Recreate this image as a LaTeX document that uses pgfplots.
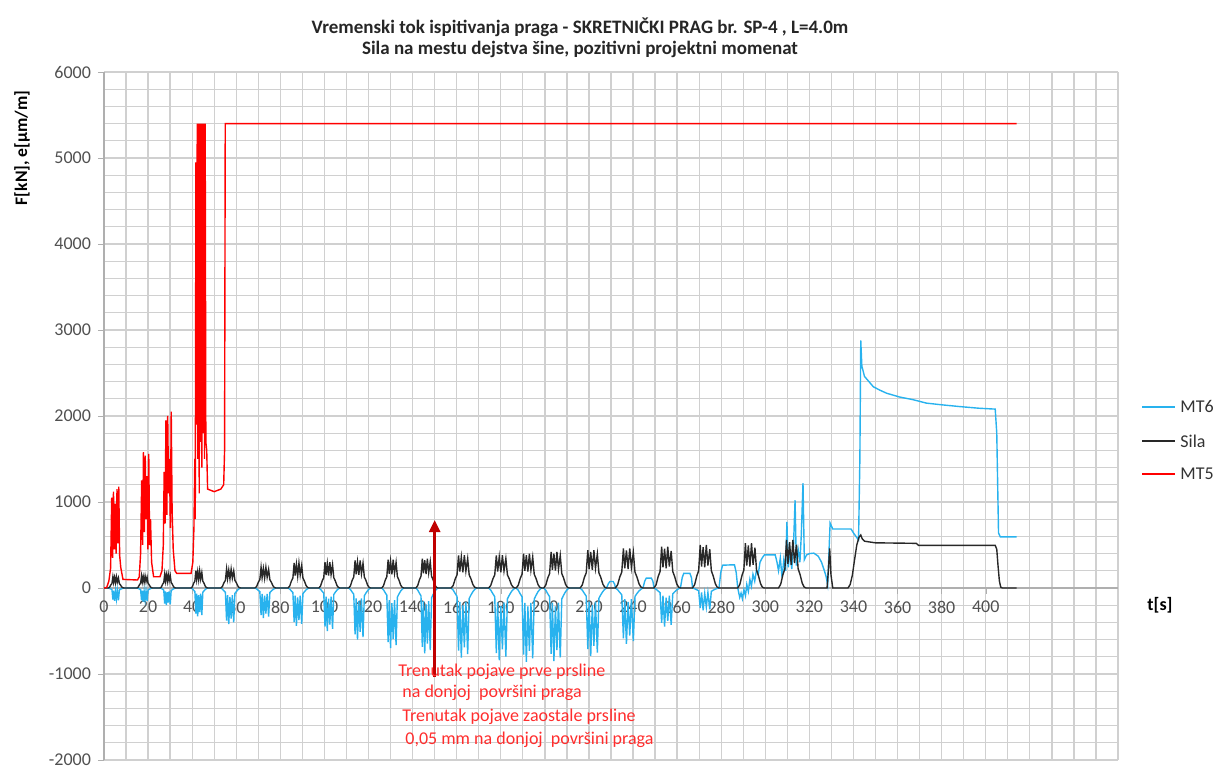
\documentclass[border=0pt]{standalone}
\usepackage{fontspec}
\setmainfont{Carlito}
\usepackage{pgfplots}
\pgfplotsset{compat=1.18}
\usetikzlibrary{arrows.meta}
\pgfplotsset{layers/labelsontop/.define layer set={axis background,axis grid,main,axis ticks,axis lines,axis tick labels,axis descriptions,axis foreground}{}}
\definecolor{mtsix}{RGB}{40,178,238}
\definecolor{sila}{RGB}{40,40,40}
\definecolor{mtfive}{RGB}{255,0,0}
\definecolor{arrowred}{RGB}{192,0,0}
\definecolor{notered}{RGB}{255,45,45}
\definecolor{gridgray}{RGB}{208,208,208}
\definecolor{axisgray}{RGB}{175,175,175}
\definecolor{ticktext}{RGB}{80,80,80}
\begin{document}
\begin{tikzpicture}[font=\fontsize{9}{10.8}\selectfont]
\begin{axis}[
  set layers=labelsontop,
  scale only axis, width=507pt, height=344pt,
  xmin=0, xmax=460, ymin=-2000, ymax=6000,
  axis x line=middle, axis y line=left,
  axis line style={-, draw=axisgray, line width=0.6pt},
  xtick={0,20,...,400}, minor xtick={10,20,...,460},
  ytick={-2000,-1000,...,6000}, minor ytick={-2000,-1800,...,6000},
  grid=both, major grid style={draw=gridgray, line width=0.65pt}, minor grid style={draw=gridgray, line width=0.65pt},
  tick align=outside, major tick length=3pt, minor tick length=0pt,
  tick style={draw=axisgray},
  ticklabel style={font=\fontsize{9}{10.8}\selectfont, text=ticktext},
  /pgf/number format/assume math mode=true,
  /pgf/number format/1000 sep={},
  scaled ticks=false,
  hide obscured x ticks=false, hide obscured y ticks=false,
]
% MT6
\addplot[mtsix, line width=0.7pt] coordinates {
(0,0)
(2,0) (2.56,-5) (3.12,-12) (3.61,-18) (4.03,-135) (4.38,-30) (4.8,-150) (5.22,-38) (5.64,-128) (6.06,-30) (6.55,-143) (6.97,-23) (7.46,-15) (8.02,-8) (8.51,-3) (9,0)
(15,0) (15.56,-5) (16.12,-13) (16.61,-19) (17.03,-144) (17.38,-32) (17.8,-160) (18.22,-40) (18.64,-136) (19.06,-32) (19.55,-152) (19.97,-24) (20.46,-16) (21.02,-8) (21.51,-3) (22,0)
(25.5,0) (26.06,-6) (26.62,-16) (27.11,-24) (27.53,-180) (27.88,-40) (28.3,-200) (28.72,-50) (29.14,-170) (29.56,-40) (30.05,-190) (30.47,-30) (30.96,-20) (31.52,-10) (32.01,-4) (32.5,0)
(39.5,0) (40.1,-10) (40.7,-26) (41.23,-40) (41.68,-297) (42.05,-66) (42.5,-330) (42.95,-83) (43.4,-281) (43.85,-66) (44.38,-314) (44.83,-50) (45.35,-33) (45.95,-17) (46.48,-7) (47,0)
(53,0) (53.72,-13) (54.44,-34) (55.07,-50) (55.61,-378) (56.06,-84) (56.6,-420) (57.14,-105) (57.68,-357) (58.22,-84) (58.85,-399) (59.39,-63) (60.02,-42) (60.74,-21) (61.37,-8) (62,0)
(68.5,0) (69.26,-11) (70.02,-28) (70.69,-42) (71.26,-315) (71.73,-70) (72.3,-350) (72.87,-88) (73.44,-298) (74.01,-70) (74.68,-333) (75.25,-53) (75.91,-35) (76.67,-18) (77.34,-7) (78,0)
(83.5,0) (84.26,-13) (85.02,-35) (85.69,-53) (86.26,-396) (86.73,-88) (87.3,-440) (87.87,-110) (88.44,-374) (89.01,-88) (89.68,-418) (90.25,-66) (90.91,-44) (91.67,-22) (92.34,-9) (93,0)
(97.5,0) (98.26,-15) (99.02,-40) (99.69,-60) (100.26,-450) (100.73,-100) (101.3,-500) (101.87,-125) (102.44,-425) (103.01,-100) (103.68,-475) (104.25,-75) (104.91,-50) (105.67,-25) (106.34,-10) (107,0)
(111,0) (111.8,-18) (112.6,-48) (113.3,-72) (113.9,-540) (114.4,-120) (115,-600) (115.6,-150) (116.2,-510) (116.8,-120) (117.5,-570) (118.1,-90) (118.8,-60) (119.6,-30) (120.3,-12) (121,0)
(126,0) (126.8,-21) (127.6,-56) (128.3,-84) (128.9,-630) (129.4,-140) (130,-700) (130.6,-175) (131.2,-595) (131.8,-140) (132.5,-665) (133.1,-105) (133.8,-70) (134.6,-35) (135.3,-14) (136,0)
(141.5,0) (142.3,-23) (143.1,-61) (143.8,-91) (144.4,-684) (144.9,-152) (145.5,-760) (146.1,-190) (146.7,-646) (147.3,-152) (148,-722) (148.6,-114) (149.3,-76) (150.1,-38) (150.8,-15) (151.5,0)
(157.5,0) (158.42,-24) (159.34,-65) (160.15,-97) (160.84,-729) (161.41,-162) (162.1,-810) (162.79,-203) (163.48,-689) (164.17,-162) (164.98,-770) (165.67,-122) (166.47,-81) (167.39,-41) (168.2,-16) (169,0)
(174.5,0) (175.46,-25) (176.42,-67) (177.26,-101) (177.98,-756) (178.58,-168) (179.3,-840) (180.02,-210) (180.74,-714) (181.46,-168) (182.3,-798) (183.02,-126) (183.86,-84) (184.82,-42) (185.66,-17) (186.5,0)
(187,0) (187.92,-26) (188.84,-69) (189.65,-103) (190.34,-774) (190.91,-172) (191.6,-860) (192.29,-215) (192.98,-731) (193.67,-172) (194.48,-817) (195.17,-129) (195.97,-86) (196.89,-43) (197.7,-17) (198.5,0)
(199.5,0) (200.42,-26) (201.34,-68) (202.15,-102) (202.84,-765) (203.41,-170) (204.1,-850) (204.79,-213) (205.48,-723) (206.17,-170) (206.98,-808) (207.67,-128) (208.47,-85) (209.39,-43) (210.2,-17) (211,0)
(216,0) (216.96,-24) (217.92,-63) (218.76,-95) (219.48,-711) (220.08,-158) (220.8,-790) (221.52,-198) (222.24,-672) (222.96,-158) (223.8,-751) (224.52,-119) (225.36,-79) (226.32,-40) (227.16,-16) (228,0)
(228.8,50) (229.5,75) (231,75) (231.7,40)
(232,0) (233,-20) (234,-52) (234.88,-78) (235.63,-585) (236.25,-130) (237,-650) (237.75,-163) (238.5,-553) (239.25,-130) (240.13,-618) (240.88,-98) (241.75,-65) (242.75,-33) (243.63,-13) (244.5,0)
(245.3,80) (246,115) (248.3,115) (249,80)
(249.5,0) (250.46,-14) (251.42,-36) (252.26,-54) (252.98,-405) (253.58,-90) (254.3,-450) (255.02,-113) (255.74,-383) (256.46,-90) (257.3,-428) (258.02,-68) (258.86,-45) (259.82,-23) (260.66,-9) (261.5,0)
(262.3,120) (263,170) (265.8,170) (266.5,120)
(267,0) (267.96,-8) (268.92,-21) (269.76,-31) (270.48,-234) (271.08,-52) (271.8,-260) (272.52,-65) (273.24,-221) (273.96,-52) (274.8,-247) (275.52,-39) (276.36,-26) (277.32,-13) (278.16,-5) (279,0)
(279.8,180) (280.6,265) (286,270) (286.8,180)
(287.5,0) (288.4,-110) (289,-60) (289.6,-125) (290.3,-20) (291,-90) (291.6,40) (292.3,-40) (293,100) (293.7,20) (294.4,160) (295.2,80) (296,210) (296.8,160) (297.6,300) (298.6,350) (299.6,385) (304.5,385) (305.3,300) (306,200)
(306.8,350) (307.6,120) (308.4,330) (309.2,200) (309.8,770) (310.4,240) (311.2,420) (312,220) (312.8,500) (313.5,1020) (314.1,260) (314.9,450) (315.7,300) (316.3,600) (317.1,1220) (317.7,330) (318.7,384) (320,400) (322,405) (324,370) (325.5,300) (326.8,200) (327.6,131) (328.3,35) (329.4,755) (330.6,686) (338.9,686) (340,640) (341.2,597) (342.3,558) (342.9,1500) (343.3,2880) (343.8,2580) (345,2460) (347,2400) (349,2340) (352,2300) (355,2265) (361,2220) (367,2190) (373,2150) (380,2130) (388,2110) (397,2090) (404.3,2080) (405,1800) (405.8,640) (406.6,595) (414,595)
};
% Sila
\addplot[sila, line width=0.7pt] coordinates {
(0,0)
(2,0) (2.56,10) (3.12,36) (3.61,52) (4.03,130) (4.38,65) (4.8,124) (5.22,62) (5.64,130) (6.06,68) (6.55,117) (6.97,52) (7.46,36) (8.02,13) (8.51,3) (9,0)
(15,0) (15.56,11) (16.12,39) (16.61,56) (17.03,140) (17.38,70) (17.8,133) (18.22,67) (18.64,140) (19.06,73) (19.55,126) (19.97,56) (20.46,39) (21.02,14) (21.51,3) (22,0)
(25.5,0) (26.06,13) (26.62,45) (27.11,64) (27.53,160) (27.88,80) (28.3,152) (28.72,77) (29.14,160) (29.56,83) (30.05,144) (30.47,64) (30.96,45) (31.52,16) (32.01,3) (32.5,0)
(39.5,0) (40.1,16) (40.7,56) (41.23,80) (41.68,200) (42.05,100) (42.5,190) (42.95,96) (43.4,200) (43.85,104) (44.38,180) (44.83,80) (45.35,56) (45.95,20) (46.48,4) (47,0)
(53,0) (53.72,18) (54.44,62) (55.07,88) (55.61,220) (56.06,110) (56.6,209) (57.14,106) (57.68,220) (58.22,114) (58.85,198) (59.39,88) (60.02,62) (60.74,22) (61.37,4) (62,0)
(68.5,0) (69.26,19) (70.02,67) (70.69,96) (71.26,240) (71.73,120) (72.3,228) (72.87,115) (73.44,240) (74.01,125) (74.68,216) (75.25,96) (75.91,67) (76.67,24) (77.34,5) (78,0)
(83.5,0) (84.26,23) (85.02,81) (85.69,116) (86.26,290) (86.73,145) (87.3,276) (87.87,139) (88.44,290) (89.01,151) (89.68,261) (90.25,116) (90.91,81) (91.67,29) (92.34,6) (93,0)
(97.5,0) (98.26,24) (99.02,84) (99.69,120) (100.26,300) (100.73,150) (101.3,285) (101.87,144) (102.44,300) (103.01,156) (103.68,270) (104.25,120) (104.91,84) (105.67,30) (106.34,6) (107,0)
(111,0) (111.8,26) (112.6,90) (113.3,128) (113.9,320) (114.4,160) (115,304) (115.6,154) (116.2,320) (116.8,166) (117.5,288) (118.1,128) (118.8,90) (119.6,32) (120.3,6) (121,0)
(126,0) (126.8,26) (127.6,92) (128.3,132) (128.9,330) (129.4,165) (130,314) (130.6,158) (131.2,330) (131.8,172) (132.5,297) (133.1,132) (133.8,92) (134.6,33) (135.3,7) (136,0)
(141.5,0) (142.3,27) (143.1,95) (143.8,136) (144.4,340) (144.9,170) (145.5,323) (146.1,163) (146.7,340) (147.3,177) (148,306) (148.6,136) (149.3,95) (150.1,34) (150.8,7) (151.5,0)
(157.5,0) (158.42,30) (159.34,106) (160.15,152) (160.84,380) (161.41,190) (162.1,361) (162.79,182) (163.48,380) (164.17,198) (164.98,342) (165.67,152) (166.47,106) (167.39,38) (168.2,8) (169,0)
(174.5,0) (175.46,30) (176.42,106) (177.26,152) (177.98,380) (178.58,190) (179.3,361) (180.02,182) (180.74,380) (181.46,198) (182.3,342) (183.02,152) (183.86,106) (184.82,38) (185.66,8) (186.5,0)
(187,0) (187.92,32) (188.84,112) (189.65,160) (190.34,400) (190.91,200) (191.6,380) (192.29,192) (192.98,400) (193.67,208) (194.48,360) (195.17,160) (195.97,112) (196.89,40) (197.7,8) (198.5,0)
(199.5,0) (200.42,34) (201.34,118) (202.15,168) (202.84,420) (203.41,210) (204.1,399) (204.79,202) (205.48,420) (206.17,218) (206.98,378) (207.67,168) (208.47,118) (209.39,42) (210.2,8) (211,0)
(216,0) (216.96,35) (217.92,123) (218.76,176) (219.48,440) (220.08,220) (220.8,418) (221.52,211) (222.24,440) (222.96,229) (223.8,396) (224.52,176) (225.36,123) (226.32,44) (227.16,9) (228,0)
(232,0) (233,37) (234,129) (234.88,184) (235.63,460) (236.25,230) (237,437) (237.75,221) (238.5,460) (239.25,239) (240.13,414) (240.88,184) (241.75,129) (242.75,46) (243.63,9) (244.5,0)
(249.5,0) (250.46,38) (251.42,134) (252.26,192) (252.98,480) (253.58,240) (254.3,456) (255.02,230) (255.74,480) (256.46,250) (257.3,432) (258.02,192) (258.86,134) (259.82,48) (260.66,10) (261.5,0)
(267,0) (267.96,40) (268.92,140) (269.76,200) (270.48,500) (271.08,250) (271.8,475) (272.52,240) (273.24,500) (273.96,260) (274.8,450) (275.52,200) (276.36,140) (277.32,50) (278.16,10) (279,0)
(287.5,0) (288.46,42) (289.42,146) (290.26,208) (290.98,520) (291.58,260) (292.3,494) (293.02,250) (293.74,520) (294.46,270) (295.3,468) (296.02,208) (296.86,146) (297.82,52) (298.66,10) (299.5,0)
(306,0) (307,45) (308,157) (308.88,224) (309.63,560) (310.25,280) (311,532) (311.75,269) (312.5,560) (313.25,291) (314.13,504) (314.88,224) (315.75,157) (316.75,56) (317.63,11) (318.5,0)
(328,0) (328.6,200) (329.2,460) (329.8,150) (330.6,0) (337.5,0) (338.5,40) (339.5,150) (340.5,330) (341.5,500) (342.5,590) (343.3,616) (344,570) (345,545) (346,540) (350,525) (360,522) (368.5,519) (369.5,495) (404.3,495) (405,450) (405.6,250) (406.2,80) (406.8,10) (407.5,0) (414,0)
};
% MT5
\addplot[mtfive, line width=0.7pt] coordinates {
(0,0) (1.2,5) (2.2,80) (3,230) (3.5,1050) (3.9,350) (4.3,1120) (4.7,450) (5.1,980) (5.5,400) (5.9,1150) (6.3,520) (6.7,1180) (7.1,380) (7.6,240) (8.6,100) (15.2,93)
(16,130) (16.6,400) (17.1,1250) (17.5,500) (17.9,1580) (18.3,650) (18.7,1540) (19.1,800) (19.5,1300) (19.9,450) (20.3,1560) (20.7,500) (21.1,800) (21.6,300) (22.5,131) (25.4,131)
(26.3,200) (26.9,500) (27.3,1350) (27.7,750) (28.1,1950) (28.5,850) (28.9,2000) (29.3,1100) (29.7,1500) (30.1,700) (30.5,2050) (30.9,900) (31.4,450) (32.2,200) (33,170) (39.5,170)
(40.3,300) (40.8,700) (41.2,1500) (41.4,800) (41.7,4950) (42,1900) (42.3,5400) (42.6,1500) (42.9,5400) (43.2,1100) (43.5,5400) (43.8,1700) (44.1,5400) (44.4,1400) (44.7,5400) (45,1800) (45.3,5400) (45.6,1500) (45.9,5400) (46.2,1700) (46.6,1600) (47,1150)
(50,1120) (53,1150) (54.3,1200) (54.7,1600) (55,5400) (414,5400)
};
\draw[arrowred, line width=1.3pt, -{Triangle[length=6pt,width=5.5pt]}] (axis cs:150,-1035) -- (axis cs:150,790);
\end{axis}
% legend
\draw[mtsix, line width=0.7pt] (519pt,176.5pt) -- (535.5pt,176.5pt);
\node[anchor=west, inner sep=0pt, text=black!80] at (538pt,176.5pt) {MT6};
\draw[sila, line width=0.7pt] (519pt,159.5pt) -- (535.5pt,159.5pt);
\node[anchor=west, inner sep=0pt, text=black!80] at (538pt,159.5pt) {Sila};
\draw[mtfive, line width=0.7pt] (519pt,143pt) -- (535.5pt,143pt);
\node[anchor=west, inner sep=0pt, text=black!80] at (538pt,143pt) {MT5};
% titles and labels
\node[font=\bfseries\fontsize{9.5}{11.4}\selectfont, text=black!85] at (238pt,366.5pt) {Vremenski tok ispitivanja praga - SKRETNIČKI PRAG br. SP-4 , L=4.0m};
\node[font=\bfseries\fontsize{9.5}{11.4}\selectfont, text=black!85] at (238pt,355.5pt) {Sila na mestu dejstva šine, pozitivni projektni momenat};
\node[font=\bfseries\fontsize{8.8}{10.5}\selectfont, rotate=90] at (-41pt,306pt) {F[kN], e[µm/m]};
\node[font=\bfseries\fontsize{9}{10.8}\selectfont] at (528pt,77.5pt) {t[s]};
\node[anchor=west, text=notered, inner sep=0pt] at (147pt,44pt) {Trenutak pojave prve prsline};
\node[anchor=west, text=notered, inner sep=0pt] at (149pt,33.5pt) {na donjoj\ \ površini praga};
\node[anchor=west, text=notered, inner sep=0pt] at (149pt,21.5pt) {Trenutak pojave zaostale prsline};
\node[anchor=west, text=notered, inner sep=0pt] at (150.5pt,10pt) {0,05 mm na donjoj\ \ površini praga};
\pgfresetboundingbox
\path[use as bounding box] (-52pt,-4.5pt) rectangle (556pt,380pt);
\end{tikzpicture}
\end{document}
